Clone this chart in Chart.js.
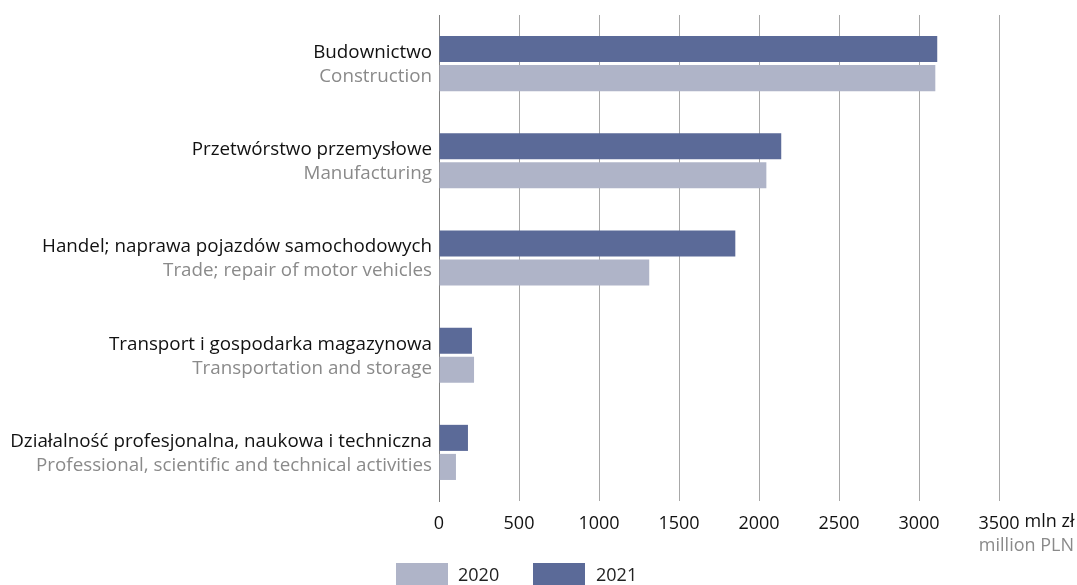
<!DOCTYPE html>
<html>
<head>
<meta charset="utf-8">
<script src="https://cdn.jsdelivr.net/npm/chart.js@4/dist/chart.umd.min.js"></script>
<style>
  html, body { margin: 0; padding: 0; background: #fff; }
  #wrap { position: relative; width: 1077px; height: 585px; }
  #legend { position: absolute; left: 0; top: 563px; font-family: "Open Sans", sans-serif; font-size: 18px; color: #222; }
  .key { position: absolute; width: 52px; height: 22px; }
  .lbl { position: absolute; top: -1px; line-height: 24px; }
</style>
</head>
<body>
<div id="wrap">
  <canvas id="chart" width="1077" height="585"></canvas>
  <div id="legend"></div>
</div>
<script>
// categories (Polish / English)
const labelsPl = [
    "Budownictwo",
    "Przetwórstwo przemysłowe",
    "Handel; naprawa pojazdów samochodowych",
    "Transport i gospodarka magazynowa",
    "Działalność profesjonalna, naukowa i techniczna"
];
const labelsEn = [
    "Construction",
    "Manufacturing",
    "Trade; repair of motor vehicles",
    "Transportation and storage",
    "Professional, scientific and technical activities"
];

// values in mln zł
const values2021 = [3114, 2139, 1852, 206, 181];
const values2020 = [3102, 2046, 1314, 219, 106];

const xTicks = [0, 500, 1000, 1500, 2000, 2500, 3000, 3500];

const color2021 = "#5b6a98";
const color2020 = "#afb4c8";
const fontFamily = "'Open Sans', sans-serif";

// two-colour category labels + unit text
const labelPlugin = {
    id: "labelPlugin",
    afterDraw(chart) {
        let ctx = chart.ctx;
        let yScale = chart.scales.y;
        let xScale = chart.scales.x;
        let left = chart.chartArea.left;
        ctx.save();
        ctx.font = "18.8px " + fontFamily;
        ctx.textAlign = "right";
        ctx.textBaseline = "middle";
        labelsPl.forEach((name, i) => {
            let y = yScale.getPixelForValue(i);
            ctx.fillStyle = "#111";
            ctx.fillText(name, left - 7, y - 11);
            ctx.fillStyle = "#8a8a8a";
            ctx.fillText(labelsEn[i], left - 7, y + 13);
        });

        // unit next to last tick
        ctx.font = "18px " + fontFamily;
        let lastX = xScale.getPixelForValue(3500);
        let w = ctx.measureText("3500").width;
        let ty = chart.chartArea.bottom + 21;
        ctx.textAlign = "left";
        ctx.fillStyle = "#111";
        ctx.fillText("mln zł", lastX + w / 2 + 5, ty);
        ctx.textAlign = "right";
        ctx.fillStyle = "#8a8a8a";
        ctx.fillText("million PLN", 1074, ty + 24);
        ctx.restore();
    }
};

new Chart(document.getElementById("chart"), {
    type: "bar",
    data: {
        labels: labelsPl,
        datasets: [
            {
                label: "2021",
                data: values2021,
                backgroundColor: color2021,
                categoryPercentage: 0.598,
                barPercentage: 0.897
            },
            {
                label: "2020",
                data: values2020,
                backgroundColor: color2020,
                categoryPercentage: 0.598,
                barPercentage: 0.897
            }
        ]
    },
    options: {
        indexAxis: "y",
        responsive: false,
        animation: false,
        layout: { padding: { top: 15, right: 78, left: 0, bottom: 0 } },
        plugins: {
            legend: { display: false },
            tooltip: { enabled: false }
        },
        scales: {
            x: {
                min: 0,
                max: 3500,
                afterBuildTicks: axis => { axis.ticks = xTicks.map(v => ({ value: v })); },
                afterFit: axis => { axis.height = 84; },
                grid: { color: "#a8a8a8", lineWidth: 1, drawTicks: false },
                border: { display: false },
                ticks: {
                    padding: 12,
                    color: "#111",
                    font: { family: fontFamily, size: 18 },
                    maxRotation: 0,
                    callback: value => String(value)
                }
            },
            y: {
                afterFit: axis => { axis.width = 439; },
                grid: { display: false },
                border: { display: true, color: "#808080", width: 1 },
                ticks: { display: false }
            }
        }
    },
    plugins: [labelPlugin]
});

// legend (2020 first, as in the original)
let legend = document.getElementById("legend");
[["2020", color2020, 396, 458], ["2021", color2021, 533, 596]].forEach(([txt, col, bx, tx]) => {
    let box = document.createElement("div");
    box.className = "key";
    box.style.left = bx + "px";
    box.style.background = col;
    legend.appendChild(box);
    let lbl = document.createElement("div");
    lbl.className = "lbl";
    lbl.style.left = tx + "px";
    lbl.textContent = txt;
    legend.appendChild(lbl);
});
</script>
</body>
</html>
